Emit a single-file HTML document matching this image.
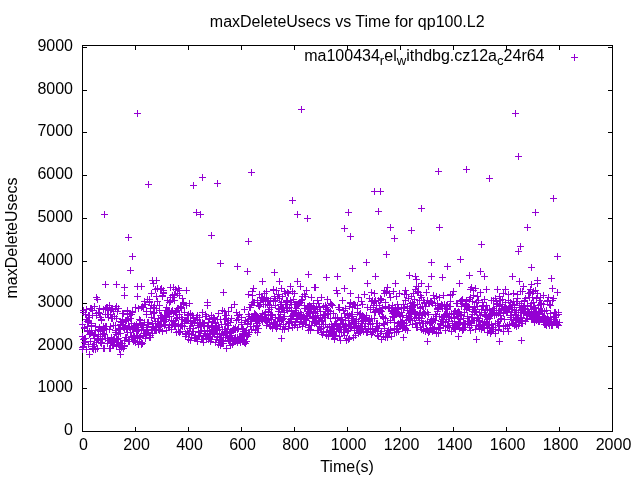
<!DOCTYPE html>
<html lang="en"><head><meta charset="utf-8"><title>maxDeleteUsecs vs Time for qp100.L2</title>
<style>
html,body{margin:0;padding:0;background:#fff;width:640px;height:480px;overflow:hidden}
svg{display:block;will-change:transform}
text{font-family:"Liberation Sans",sans-serif;font-size:16px;fill:#000}
.ax{stroke:#000;stroke-width:1;fill:none;shape-rendering:crispEdges}
.pt{stroke:#9400d3;stroke-width:1;fill:none}
</style></head><body>
<svg width="640" height="480" viewBox="0 0 640 480">
<rect width="640" height="480" fill="#fff"/>
<text x="347.2" y="27" text-anchor="middle">maxDeleteUsecs vs Time for qp100.L2</text>
<text transform="translate(17.2,238) rotate(-90)" text-anchor="middle">maxDeleteUsecs</text>
<text x="347" y="472" text-anchor="middle">Time(s)</text>
<text x="73" y="434.5" text-anchor="end">0</text>
<text x="73" y="391.5" text-anchor="end">1000</text>
<text x="73" y="349.5" text-anchor="end">2000</text>
<text x="73" y="306.5" text-anchor="end">3000</text>
<text x="73" y="264.5" text-anchor="end">4000</text>
<text x="73" y="221.5" text-anchor="end">5000</text>
<text x="73" y="178.5" text-anchor="end">6000</text>
<text x="73" y="135.5" text-anchor="end">7000</text>
<text x="73" y="93.5" text-anchor="end">8000</text>
<text x="73" y="50.5" text-anchor="end">9000</text>
<text x="83.5" y="449.8" text-anchor="middle">0</text>
<text x="136.5" y="449.8" text-anchor="middle">200</text>
<text x="189.5" y="449.8" text-anchor="middle">400</text>
<text x="242.5" y="449.8" text-anchor="middle">600</text>
<text x="295.5" y="449.8" text-anchor="middle">800</text>
<text x="348.5" y="449.8" text-anchor="middle">1000</text>
<text x="401.5" y="449.8" text-anchor="middle">1200</text>
<text x="454.5" y="449.8" text-anchor="middle">1400</text>
<text x="507.5" y="449.8" text-anchor="middle">1600</text>
<text x="560.5" y="449.8" text-anchor="middle">1800</text>
<text x="613.5" y="449.8" text-anchor="middle">2000</text>
<path class="ax" d="M82.5,431.5h4.5M612.5,431.5h-4.5M82.5,388.5h4.5M612.5,388.5h-4.5M82.5,346.5h4.5M612.5,346.5h-4.5M82.5,303.5h4.5M612.5,303.5h-4.5M82.5,261.5h4.5M612.5,261.5h-4.5M82.5,218.5h4.5M612.5,218.5h-4.5M82.5,175.5h4.5M612.5,175.5h-4.5M82.5,132.5h4.5M612.5,132.5h-4.5M82.5,90.5h4.5M612.5,90.5h-4.5M82.5,47.5h4.5M612.5,47.5h-4.5M82.5,431.5v-4.5M82.5,45.5v4.5M135.5,431.5v-4.5M135.5,45.5v4.5M188.5,431.5v-4.5M188.5,45.5v4.5M241.5,431.5v-4.5M241.5,45.5v4.5M294.5,431.5v-4.5M294.5,45.5v4.5M347.5,431.5v-4.5M347.5,45.5v4.5M400.5,431.5v-4.5M400.5,45.5v4.5M453.5,431.5v-4.5M453.5,45.5v4.5M506.5,431.5v-4.5M506.5,45.5v4.5M559.5,431.5v-4.5M559.5,45.5v4.5M612.5,431.5v-4.5M612.5,45.5v4.5"/>
<rect class="ax" x="82.5" y="45.5" width="530" height="386"/>
<text x="544.5" y="60.5" text-anchor="end">ma100434<tspan font-size="13.2" dy="4.8">r</tspan><tspan dy="-4.8">el</tspan><tspan font-size="13.2" dy="4.8">w</tspan><tspan dy="-4.8">ithdbg.cz12a</tspan><tspan font-size="13.2" dy="4.8">c</tspan><tspan dy="-4.8">24r64</tspan></text>
<path class="pt" d="M571.00,57.50h7M574.50,54.00v7M134.00,113.50h7M137.50,110.00v7M298.00,109.50h7M301.50,106.00v7M512.00,113.50h7M515.50,110.00v7M515.00,156.50h7M518.50,153.00v7M145.00,184.50h7M148.50,181.00v7M190.00,185.50h7M193.50,182.00v7M199.00,177.50h7M202.50,174.00v7M214.00,183.50h7M217.50,180.00v7M101.00,214.50h7M104.50,211.00v7M193.00,212.50h7M196.50,209.00v7M197.00,214.50h7M200.50,211.00v7M125.00,237.50h7M128.50,234.00v7M208.00,235.50h7M211.50,232.00v7M129.00,256.50h7M132.50,253.00v7M217.00,263.50h7M220.50,260.00v7M234.00,266.50h7M237.50,263.00v7M127.00,270.50h7M130.50,267.00v7M149.00,280.50h7M152.50,277.00v7M153.00,280.50h7M156.50,277.00v7M248.00,172.50h7M251.50,169.00v7M289.00,200.50h7M292.50,197.00v7M294.00,214.50h7M297.50,211.00v7M304.00,218.50h7M307.50,215.00v7M371.00,191.50h7M374.50,188.00v7M377.00,191.50h7M380.50,188.00v7M345.00,212.50h7M348.50,209.00v7M375.00,211.50h7M378.50,208.00v7M341.00,228.50h7M344.50,225.00v7M387.00,227.50h7M390.50,224.00v7M347.00,236.50h7M350.50,233.00v7M391.00,238.50h7M394.50,235.00v7M245.00,241.50h7M248.50,238.00v7M383.00,254.50h7M386.50,251.00v7M363.00,262.50h7M366.50,259.00v7M349.00,268.50h7M352.50,265.00v7M244.00,271.50h7M247.50,268.00v7M271.00,272.50h7M274.50,269.00v7M305.00,274.50h7M308.50,271.00v7M334.00,276.50h7M337.50,273.00v7M323.00,277.50h7M326.50,274.00v7M372.00,276.50h7M375.50,273.00v7M259.00,281.50h7M262.50,278.00v7M276.00,281.50h7M279.50,278.00v7M294.00,281.50h7M297.50,278.00v7M435.00,171.50h7M438.50,168.00v7M463.00,169.50h7M466.50,166.00v7M486.00,178.50h7M489.50,175.00v7M550.00,198.50h7M553.50,195.00v7M418.00,208.50h7M421.50,205.00v7M532.00,212.50h7M535.50,209.00v7M408.00,230.50h7M411.50,227.00v7M436.00,227.50h7M439.50,224.00v7M524.00,227.50h7M527.50,224.00v7M478.00,244.50h7M481.50,241.00v7M517.00,246.50h7M520.50,243.00v7M515.00,251.50h7M518.50,248.00v7M554.00,256.50h7M557.50,253.00v7M457.00,259.50h7M460.50,256.00v7M428.00,262.50h7M431.50,259.00v7M444.00,266.50h7M447.50,263.00v7M528.00,267.50h7M531.50,264.00v7M477.00,271.50h7M480.50,268.00v7M406.00,275.50h7M409.50,272.00v7M412.00,276.50h7M415.50,273.00v7M428.00,276.50h7M431.50,273.00v7M439.00,277.50h7M442.50,274.00v7M466.00,275.50h7M469.50,272.00v7M481.00,276.50h7M484.50,273.00v7M509.00,276.50h7M512.50,273.00v7M548.00,278.50h7M551.50,275.00v7M413.00,279.50h7M416.50,276.00v7M534.00,280.50h7M537.50,277.00v7M516.00,281.50h7M519.50,278.00v7M102.00,284.50h7M105.50,281.00v7M113.00,284.50h7M116.50,281.00v7M121.00,287.50h7M124.50,284.00v7M134.00,286.50h7M137.50,283.00v7M138.00,286.50h7M141.50,283.00v7M121.00,295.50h7M124.50,292.00v7M220.00,292.50h7M223.50,289.00v7M223.00,348.50h7M226.50,345.00v7M117.00,354.50h7M120.50,351.00v7M86.00,354.50h7M89.50,351.00v7M172.00,289.50h7M175.50,286.00v7M176.00,290.50h7M179.50,287.00v7M278.00,338.50h7M281.50,335.00v7M250.00,288.50h7M253.50,285.00v7M312.00,287.50h7M315.50,284.00v7M287.00,286.50h7M290.50,283.00v7M273.00,290.50h7M276.50,287.00v7M281.00,291.50h7M284.50,288.00v7M424.00,341.50h7M427.50,338.00v7M455.00,336.50h7M458.50,333.00v7M473.00,339.50h7M476.50,336.00v7M400.00,337.50h7M403.50,334.00v7M496.00,341.50h7M499.50,338.00v7M518.00,340.50h7M521.50,337.00v7M79.00,324.50h7M82.50,321.00v7M79.00,336.50h7M82.50,333.00v7M79.00,349.50h7M82.50,346.00v7M79.00,347.50h7M82.50,344.00v7M80.00,346.50h7M83.50,343.00v7M80.00,312.50h7M83.50,309.00v7M80.00,310.50h7M83.50,307.00v7M80.00,339.50h7M83.50,336.00v7M81.00,338.50h7M84.50,335.00v7M81.00,327.50h7M84.50,324.00v7M81.00,328.50h7M84.50,325.00v7M81.00,342.50h7M84.50,339.00v7M82.00,338.50h7M85.50,335.00v7M82.00,338.50h7M85.50,335.00v7M82.00,341.50h7M85.50,338.00v7M82.00,314.50h7M85.50,311.00v7M83.00,309.50h7M86.50,306.00v7M83.00,319.50h7M86.50,316.00v7M83.00,349.50h7M86.50,346.00v7M84.00,326.50h7M87.50,323.00v7M84.00,321.50h7M87.50,318.00v7M84.00,331.50h7M87.50,328.00v7M84.00,330.50h7M87.50,327.00v7M85.00,320.50h7M88.50,317.00v7M85.00,315.50h7M88.50,312.00v7M85.00,322.50h7M88.50,319.00v7M85.00,344.50h7M88.50,341.00v7M86.00,317.50h7M89.50,314.00v7M86.00,334.50h7M89.50,331.00v7M86.00,331.50h7M89.50,328.00v7M86.00,315.50h7M89.50,312.00v7M87.00,333.50h7M90.50,330.00v7M87.00,308.50h7M90.50,305.00v7M87.00,341.50h7M90.50,338.00v7M88.00,325.50h7M91.50,322.00v7M88.00,332.50h7M91.50,329.00v7M88.00,308.50h7M91.50,305.00v7M88.00,323.50h7M91.50,320.00v7M89.00,310.50h7M92.50,307.00v7M89.00,315.50h7M92.50,312.00v7M89.00,346.50h7M92.50,343.00v7M89.00,348.50h7M92.50,345.00v7M90.00,335.50h7M93.50,332.00v7M90.00,344.50h7M93.50,341.00v7M90.00,349.50h7M93.50,346.00v7M90.00,344.50h7M93.50,341.00v7M91.00,334.50h7M94.50,331.00v7M91.00,306.50h7M94.50,303.00v7M91.00,346.50h7M94.50,343.00v7M91.00,338.50h7M94.50,335.00v7M92.00,349.50h7M95.50,346.00v7M92.00,330.50h7M95.50,327.00v7M92.00,326.50h7M95.50,323.00v7M93.00,297.50h7M96.50,294.00v7M93.00,342.50h7M96.50,339.00v7M93.00,315.50h7M96.50,312.00v7M93.00,313.50h7M96.50,310.00v7M94.00,299.50h7M97.50,296.00v7M94.00,339.50h7M97.50,336.00v7M94.00,348.50h7M97.50,345.00v7M94.00,338.50h7M97.50,335.00v7M95.00,329.50h7M98.50,326.00v7M95.00,336.50h7M98.50,333.00v7M95.00,340.50h7M98.50,337.00v7M95.00,312.50h7M98.50,309.00v7M96.00,313.50h7M99.50,310.00v7M96.00,308.50h7M99.50,305.00v7M96.00,327.50h7M99.50,324.00v7M97.00,334.50h7M100.50,331.00v7M97.00,331.50h7M100.50,328.00v7M97.00,317.50h7M100.50,314.00v7M97.00,342.50h7M100.50,339.00v7M98.00,342.50h7M101.50,339.00v7M98.00,319.50h7M101.50,316.00v7M98.00,343.50h7M101.50,340.00v7M98.00,320.50h7M101.50,317.00v7M99.00,329.50h7M102.50,326.00v7M99.00,339.50h7M102.50,336.00v7M99.00,338.50h7M102.50,335.00v7M99.00,330.50h7M102.50,327.00v7M100.00,333.50h7M103.50,330.00v7M100.00,309.50h7M103.50,306.00v7M100.00,326.50h7M103.50,323.00v7M100.00,348.50h7M103.50,345.00v7M101.00,348.50h7M104.50,345.00v7M101.00,328.50h7M104.50,325.00v7M101.00,334.50h7M104.50,331.00v7M102.00,314.50h7M105.50,311.00v7M102.00,338.50h7M105.50,335.00v7M102.00,326.50h7M105.50,323.00v7M102.00,308.50h7M105.50,305.00v7M103.00,326.50h7M106.50,323.00v7M103.00,329.50h7M106.50,326.00v7M103.00,307.50h7M106.50,304.00v7M103.00,307.50h7M106.50,304.00v7M104.00,307.50h7M107.50,304.00v7M104.00,343.50h7M107.50,340.00v7M104.00,338.50h7M107.50,335.00v7M104.00,314.50h7M107.50,311.00v7M105.00,317.50h7M108.50,314.00v7M105.00,310.50h7M108.50,307.00v7M105.00,340.50h7M108.50,337.00v7M106.00,305.50h7M109.50,302.00v7M106.00,329.50h7M109.50,326.00v7M106.00,340.50h7M109.50,337.00v7M106.00,348.50h7M109.50,345.00v7M107.00,348.50h7M110.50,345.00v7M107.00,326.50h7M110.50,323.00v7M107.00,314.50h7M110.50,311.00v7M107.00,343.50h7M110.50,340.00v7M108.00,337.50h7M111.50,334.00v7M108.00,309.50h7M111.50,306.00v7M108.00,342.50h7M111.50,339.00v7M108.00,318.50h7M111.50,315.00v7M109.00,318.50h7M112.50,315.00v7M109.00,308.50h7M112.50,305.00v7M109.00,345.50h7M112.50,342.00v7M110.00,311.50h7M113.50,308.00v7M110.00,325.50h7M113.50,322.00v7M110.00,339.50h7M113.50,336.00v7M110.00,344.50h7M113.50,341.00v7M111.00,340.50h7M114.50,337.00v7M111.00,316.50h7M114.50,313.00v7M111.00,341.50h7M114.50,338.00v7M111.00,338.50h7M114.50,335.00v7M112.00,325.50h7M115.50,322.00v7M112.00,308.50h7M115.50,305.00v7M112.00,330.50h7M115.50,327.00v7M112.00,332.50h7M115.50,329.00v7M113.00,306.50h7M116.50,303.00v7M113.00,318.50h7M116.50,315.00v7M113.00,334.50h7M116.50,331.00v7M113.00,346.50h7M116.50,343.00v7M114.00,342.50h7M117.50,339.00v7M114.00,311.50h7M117.50,308.00v7M114.00,339.50h7M117.50,336.00v7M115.00,342.50h7M118.50,339.00v7M115.00,308.50h7M118.50,305.00v7M115.00,329.50h7M118.50,326.00v7M115.00,338.50h7M118.50,335.00v7M116.00,329.50h7M119.50,326.00v7M116.00,328.50h7M119.50,325.00v7M116.00,346.50h7M119.50,343.00v7M116.00,349.50h7M119.50,346.00v7M117.00,324.50h7M120.50,321.00v7M117.00,321.50h7M120.50,318.00v7M117.00,333.50h7M120.50,330.00v7M117.00,343.50h7M120.50,340.00v7M118.00,347.50h7M121.50,344.00v7M118.00,322.50h7M121.50,319.00v7M118.00,343.50h7M121.50,340.00v7M119.00,313.50h7M122.50,310.00v7M119.00,324.50h7M122.50,321.00v7M119.00,319.50h7M122.50,316.00v7M119.00,343.50h7M122.50,340.00v7M120.00,313.50h7M123.50,310.00v7M120.00,322.50h7M123.50,319.00v7M120.00,348.50h7M123.50,345.00v7M120.00,327.50h7M123.50,324.00v7M121.00,346.50h7M124.50,343.00v7M121.00,345.50h7M124.50,342.00v7M121.00,340.50h7M124.50,337.00v7M121.00,328.50h7M124.50,325.00v7M122.00,320.50h7M125.50,317.00v7M122.00,321.50h7M125.50,318.00v7M122.00,337.50h7M125.50,334.00v7M122.00,325.50h7M125.50,322.00v7M123.00,337.50h7M126.50,334.00v7M123.00,320.50h7M126.50,317.00v7M123.00,329.50h7M126.50,326.00v7M124.00,311.50h7M127.50,308.00v7M124.00,310.50h7M127.50,307.00v7M124.00,314.50h7M127.50,311.00v7M124.00,332.50h7M127.50,329.00v7M125.00,339.50h7M128.50,336.00v7M125.00,326.50h7M128.50,323.00v7M125.00,341.50h7M128.50,338.00v7M125.00,319.50h7M128.50,316.00v7M126.00,327.50h7M129.50,324.00v7M126.00,327.50h7M129.50,324.00v7M126.00,341.50h7M129.50,338.00v7M126.00,313.50h7M129.50,310.00v7M127.00,314.50h7M130.50,311.00v7M127.00,318.50h7M130.50,315.00v7M127.00,332.50h7M130.50,329.00v7M128.00,323.50h7M131.50,320.00v7M128.00,336.50h7M131.50,333.00v7M128.00,314.50h7M131.50,311.00v7M128.00,337.50h7M131.50,334.00v7M129.00,339.50h7M132.50,336.00v7M129.00,312.50h7M132.50,309.00v7M129.00,311.50h7M132.50,308.00v7M129.00,328.50h7M132.50,325.00v7M130.00,329.50h7M133.50,326.00v7M130.00,335.50h7M133.50,332.00v7M130.00,341.50h7M133.50,338.00v7M130.00,335.50h7M133.50,332.00v7M131.00,336.50h7M134.50,333.00v7M131.00,325.50h7M134.50,322.00v7M131.00,340.50h7M134.50,337.00v7M132.00,326.50h7M135.50,323.00v7M132.00,307.50h7M135.50,304.00v7M132.00,338.50h7M135.50,335.00v7M132.00,342.50h7M135.50,339.00v7M133.00,324.50h7M136.50,321.00v7M133.00,330.50h7M136.50,327.00v7M133.00,331.50h7M136.50,328.00v7M133.00,335.50h7M136.50,332.00v7M134.00,341.50h7M137.50,338.00v7M134.00,337.50h7M137.50,334.00v7M134.00,330.50h7M137.50,327.00v7M134.00,296.50h7M137.50,293.00v7M135.00,344.50h7M138.50,341.00v7M135.00,327.50h7M138.50,324.00v7M135.00,330.50h7M138.50,327.00v7M135.00,308.50h7M138.50,305.00v7M136.00,337.50h7M139.50,334.00v7M136.00,319.50h7M139.50,316.00v7M136.00,319.50h7M139.50,316.00v7M137.00,324.50h7M140.50,321.00v7M137.00,336.50h7M140.50,333.00v7M137.00,323.50h7M140.50,320.00v7M137.00,320.50h7M140.50,317.00v7M138.00,342.50h7M141.50,339.00v7M138.00,329.50h7M141.50,326.00v7M138.00,344.50h7M141.50,341.00v7M138.00,307.50h7M141.50,304.00v7M139.00,325.50h7M142.50,322.00v7M139.00,306.50h7M142.50,303.00v7M139.00,343.50h7M142.50,340.00v7M139.00,327.50h7M142.50,324.00v7M140.00,307.50h7M143.50,304.00v7M140.00,329.50h7M143.50,326.00v7M140.00,335.50h7M143.50,332.00v7M141.00,322.50h7M144.50,319.00v7M141.00,301.50h7M144.50,298.00v7M141.00,333.50h7M144.50,330.00v7M141.00,304.50h7M144.50,301.00v7M142.00,333.50h7M145.50,330.00v7M142.00,304.50h7M145.50,301.00v7M142.00,333.50h7M145.50,330.00v7M142.00,338.50h7M145.50,335.00v7M143.00,311.50h7M146.50,308.00v7M143.00,334.50h7M146.50,331.00v7M143.00,314.50h7M146.50,311.00v7M143.00,327.50h7M146.50,324.00v7M144.00,329.50h7M147.50,326.00v7M144.00,299.50h7M147.50,296.00v7M144.00,332.50h7M147.50,329.00v7M144.00,322.50h7M147.50,319.00v7M145.00,324.50h7M148.50,321.00v7M145.00,332.50h7M148.50,329.00v7M145.00,322.50h7M148.50,319.00v7M146.00,337.50h7M149.50,334.00v7M146.00,301.50h7M149.50,298.00v7M146.00,302.50h7M149.50,299.00v7M146.00,299.50h7M149.50,296.00v7M147.00,308.50h7M150.50,305.00v7M147.00,337.50h7M150.50,334.00v7M147.00,311.50h7M150.50,308.00v7M147.00,335.50h7M150.50,332.00v7M148.00,293.50h7M151.50,290.00v7M148.00,317.50h7M151.50,314.00v7M148.00,330.50h7M151.50,327.00v7M148.00,305.50h7M151.50,302.00v7M149.00,323.50h7M152.50,320.00v7M149.00,333.50h7M152.50,330.00v7M149.00,326.50h7M152.50,323.00v7M150.00,313.50h7M153.50,310.00v7M150.00,283.50h7M153.50,280.00v7M150.00,327.50h7M153.50,324.00v7M150.00,307.50h7M153.50,304.00v7M151.00,318.50h7M154.50,315.00v7M151.00,305.50h7M154.50,302.00v7M151.00,330.50h7M154.50,327.00v7M151.00,312.50h7M154.50,309.00v7M152.00,327.50h7M155.50,324.00v7M152.00,329.50h7M155.50,326.00v7M152.00,321.50h7M155.50,318.00v7M152.00,289.50h7M155.50,286.00v7M153.00,308.50h7M156.50,305.00v7M153.00,330.50h7M156.50,327.00v7M153.00,296.50h7M156.50,293.00v7M153.00,329.50h7M156.50,326.00v7M154.00,288.50h7M157.50,285.00v7M154.00,321.50h7M157.50,318.00v7M154.00,301.50h7M157.50,298.00v7M155.00,329.50h7M158.50,326.00v7M155.00,318.50h7M158.50,315.00v7M155.00,323.50h7M158.50,320.00v7M155.00,325.50h7M158.50,322.00v7M156.00,305.50h7M159.50,302.00v7M156.00,324.50h7M159.50,321.00v7M156.00,330.50h7M159.50,327.00v7M156.00,310.50h7M159.50,307.00v7M157.00,326.50h7M160.50,323.00v7M157.00,321.50h7M160.50,318.00v7M157.00,289.50h7M160.50,286.00v7M157.00,315.50h7M160.50,312.00v7M158.00,288.50h7M161.50,285.00v7M158.00,324.50h7M161.50,321.00v7M158.00,315.50h7M161.50,312.00v7M159.00,296.50h7M162.50,293.00v7M159.00,331.50h7M162.50,328.00v7M159.00,295.50h7M162.50,292.00v7M159.00,317.50h7M162.50,314.00v7M160.00,320.50h7M163.50,317.00v7M160.00,290.50h7M163.50,287.00v7M160.00,292.50h7M163.50,289.00v7M160.00,293.50h7M163.50,290.00v7M161.00,316.50h7M164.50,313.00v7M161.00,319.50h7M164.50,316.00v7M161.00,325.50h7M164.50,322.00v7M161.00,315.50h7M164.50,312.00v7M162.00,324.50h7M165.50,321.00v7M162.00,310.50h7M165.50,307.00v7M162.00,321.50h7M165.50,318.00v7M163.00,330.50h7M166.50,327.00v7M163.00,330.50h7M166.50,327.00v7M163.00,307.50h7M166.50,304.00v7M163.00,319.50h7M166.50,316.00v7M164.00,314.50h7M167.50,311.00v7M164.00,313.50h7M167.50,310.00v7M164.00,311.50h7M167.50,308.00v7M164.00,300.50h7M167.50,297.00v7M165.00,312.50h7M168.50,309.00v7M165.00,314.50h7M168.50,311.00v7M165.00,310.50h7M168.50,307.00v7M165.00,327.50h7M168.50,324.00v7M166.00,310.50h7M169.50,307.00v7M166.00,316.50h7M169.50,313.00v7M166.00,325.50h7M169.50,322.00v7M166.00,302.50h7M169.50,299.00v7M167.00,287.50h7M170.50,284.00v7M167.00,297.50h7M170.50,294.00v7M167.00,301.50h7M170.50,298.00v7M168.00,320.50h7M171.50,317.00v7M168.00,311.50h7M171.50,308.00v7M168.00,324.50h7M171.50,321.00v7M168.00,329.50h7M171.50,326.00v7M169.00,295.50h7M172.50,292.00v7M169.00,324.50h7M172.50,321.00v7M169.00,310.50h7M172.50,307.00v7M169.00,297.50h7M172.50,294.00v7M170.00,297.50h7M173.50,294.00v7M170.00,287.50h7M173.50,284.00v7M170.00,321.50h7M173.50,318.00v7M170.00,313.50h7M173.50,310.00v7M171.00,325.50h7M174.50,322.00v7M171.00,300.50h7M174.50,297.00v7M171.00,294.50h7M174.50,291.00v7M172.00,320.50h7M175.50,317.00v7M172.00,326.50h7M175.50,323.00v7M172.00,312.50h7M175.50,309.00v7M172.00,323.50h7M175.50,320.00v7M173.00,332.50h7M176.50,329.00v7M173.00,318.50h7M176.50,315.00v7M173.00,310.50h7M176.50,307.00v7M173.00,314.50h7M176.50,311.00v7M174.00,293.50h7M177.50,290.00v7M174.00,308.50h7M177.50,305.00v7M174.00,317.50h7M177.50,314.00v7M174.00,308.50h7M177.50,305.00v7M175.00,308.50h7M178.50,305.00v7M175.00,288.50h7M178.50,285.00v7M175.00,331.50h7M178.50,328.00v7M175.00,324.50h7M178.50,321.00v7M176.00,332.50h7M179.50,329.00v7M176.00,295.50h7M179.50,292.00v7M176.00,314.50h7M179.50,311.00v7M177.00,326.50h7M180.50,323.00v7M177.00,331.50h7M180.50,328.00v7M177.00,307.50h7M180.50,304.00v7M177.00,306.50h7M180.50,303.00v7M178.00,317.50h7M181.50,314.00v7M178.00,325.50h7M181.50,322.00v7M178.00,307.50h7M181.50,304.00v7M178.00,308.50h7M181.50,305.00v7M179.00,319.50h7M182.50,316.00v7M179.00,325.50h7M182.50,322.00v7M179.00,298.50h7M182.50,295.00v7M179.00,326.50h7M182.50,323.00v7M180.00,302.50h7M183.50,299.00v7M180.00,304.50h7M183.50,301.00v7M180.00,303.50h7M183.50,300.00v7M181.00,312.50h7M184.50,309.00v7M181.00,323.50h7M184.50,320.00v7M181.00,321.50h7M184.50,318.00v7M181.00,326.50h7M184.50,323.00v7M182.00,334.50h7M185.50,331.00v7M182.00,333.50h7M185.50,330.00v7M182.00,336.50h7M185.50,333.00v7M182.00,320.50h7M185.50,317.00v7M183.00,320.50h7M186.50,317.00v7M183.00,305.50h7M186.50,302.00v7M183.00,290.50h7M186.50,287.00v7M183.00,334.50h7M186.50,331.00v7M184.00,315.50h7M187.50,312.00v7M184.00,320.50h7M187.50,317.00v7M184.00,331.50h7M187.50,328.00v7M185.00,333.50h7M188.50,330.00v7M185.00,339.50h7M188.50,336.00v7M185.00,320.50h7M188.50,317.00v7M185.00,314.50h7M188.50,311.00v7M186.00,303.50h7M189.50,300.00v7M186.00,328.50h7M189.50,325.00v7M186.00,331.50h7M189.50,328.00v7M186.00,334.50h7M189.50,331.00v7M187.00,313.50h7M190.50,310.00v7M187.00,321.50h7M190.50,318.00v7M187.00,340.50h7M190.50,337.00v7M187.00,328.50h7M190.50,325.00v7M188.00,334.50h7M191.50,331.00v7M188.00,323.50h7M191.50,320.00v7M188.00,337.50h7M191.50,334.00v7M188.00,323.50h7M191.50,320.00v7M189.00,323.50h7M192.50,320.00v7M189.00,331.50h7M192.50,328.00v7M189.00,315.50h7M192.50,312.00v7M190.00,318.50h7M193.50,315.00v7M190.00,331.50h7M193.50,328.00v7M190.00,328.50h7M193.50,325.00v7M190.00,317.50h7M193.50,314.00v7M191.00,337.50h7M194.50,334.00v7M191.00,322.50h7M194.50,319.00v7M191.00,322.50h7M194.50,319.00v7M191.00,337.50h7M194.50,334.00v7M192.00,335.50h7M195.50,332.00v7M192.00,320.50h7M195.50,317.00v7M192.00,335.50h7M195.50,332.00v7M192.00,338.50h7M195.50,335.00v7M193.00,317.50h7M196.50,314.00v7M193.00,338.50h7M196.50,335.00v7M193.00,317.50h7M196.50,314.00v7M194.00,319.50h7M197.50,316.00v7M194.00,339.50h7M197.50,336.00v7M194.00,341.50h7M197.50,338.00v7M194.00,315.50h7M197.50,312.00v7M195.00,325.50h7M198.50,322.00v7M195.00,332.50h7M198.50,329.00v7M195.00,327.50h7M198.50,324.00v7M195.00,336.50h7M198.50,333.00v7M196.00,317.50h7M199.50,314.00v7M196.00,323.50h7M199.50,320.00v7M196.00,335.50h7M199.50,332.00v7M196.00,323.50h7M199.50,320.00v7M197.00,326.50h7M200.50,323.00v7M197.00,331.50h7M200.50,328.00v7M197.00,324.50h7M200.50,321.00v7M197.00,323.50h7M200.50,320.00v7M198.00,330.50h7M201.50,327.00v7M198.00,339.50h7M201.50,336.00v7M198.00,339.50h7M201.50,336.00v7M199.00,322.50h7M202.50,319.00v7M199.00,312.50h7M202.50,309.00v7M199.00,323.50h7M202.50,320.00v7M199.00,339.50h7M202.50,336.00v7M200.00,336.50h7M203.50,333.00v7M200.00,342.50h7M203.50,339.00v7M200.00,323.50h7M203.50,320.00v7M200.00,325.50h7M203.50,322.00v7M201.00,330.50h7M204.50,327.00v7M201.00,333.50h7M204.50,330.00v7M201.00,323.50h7M204.50,320.00v7M201.00,331.50h7M204.50,328.00v7M202.00,316.50h7M205.50,313.00v7M202.00,314.50h7M205.50,311.00v7M202.00,335.50h7M205.50,332.00v7M203.00,316.50h7M206.50,313.00v7M203.00,336.50h7M206.50,333.00v7M203.00,338.50h7M206.50,335.00v7M203.00,336.50h7M206.50,333.00v7M204.00,331.50h7M207.50,328.00v7M204.00,326.50h7M207.50,323.00v7M204.00,305.50h7M207.50,302.00v7M204.00,302.50h7M207.50,299.00v7M205.00,339.50h7M208.50,336.00v7M205.00,337.50h7M208.50,334.00v7M205.00,325.50h7M208.50,322.00v7M205.00,322.50h7M208.50,319.00v7M206.00,338.50h7M209.50,335.00v7M206.00,319.50h7M209.50,316.00v7M206.00,318.50h7M209.50,315.00v7M206.00,331.50h7M209.50,328.00v7M207.00,333.50h7M210.50,330.00v7M207.00,336.50h7M210.50,333.00v7M207.00,341.50h7M210.50,338.00v7M208.00,339.50h7M211.50,336.00v7M208.00,330.50h7M211.50,327.00v7M208.00,315.50h7M211.50,312.00v7M208.00,326.50h7M211.50,323.00v7M209.00,321.50h7M212.50,318.00v7M209.00,329.50h7M212.50,326.00v7M209.00,327.50h7M212.50,324.00v7M209.00,336.50h7M212.50,333.00v7M210.00,332.50h7M213.50,329.00v7M210.00,329.50h7M213.50,326.00v7M210.00,317.50h7M213.50,314.00v7M210.00,331.50h7M213.50,328.00v7M211.00,334.50h7M214.50,331.00v7M211.00,332.50h7M214.50,329.00v7M211.00,318.50h7M214.50,315.00v7M212.00,330.50h7M215.50,327.00v7M212.00,323.50h7M215.50,320.00v7M212.00,342.50h7M215.50,339.00v7M212.00,322.50h7M215.50,319.00v7M213.00,326.50h7M216.50,323.00v7M213.00,328.50h7M216.50,325.00v7M213.00,325.50h7M216.50,322.00v7M213.00,339.50h7M216.50,336.00v7M214.00,319.50h7M217.50,316.00v7M214.00,336.50h7M217.50,333.00v7M214.00,330.50h7M217.50,327.00v7M214.00,337.50h7M217.50,334.00v7M215.00,327.50h7M218.50,324.00v7M215.00,344.50h7M218.50,341.00v7M215.00,313.50h7M218.50,310.00v7M216.00,334.50h7M219.50,331.00v7M216.00,329.50h7M219.50,326.00v7M216.00,333.50h7M219.50,330.00v7M216.00,340.50h7M219.50,337.00v7M217.00,345.50h7M220.50,342.00v7M217.00,342.50h7M220.50,339.00v7M217.00,319.50h7M220.50,316.00v7M217.00,339.50h7M220.50,336.00v7M218.00,340.50h7M221.50,337.00v7M218.00,324.50h7M221.50,321.00v7M218.00,343.50h7M221.50,340.00v7M218.00,334.50h7M221.50,331.00v7M219.00,310.50h7M222.50,307.00v7M219.00,329.50h7M222.50,326.00v7M219.00,343.50h7M222.50,340.00v7M219.00,341.50h7M222.50,338.00v7M220.00,343.50h7M223.50,340.00v7M220.00,335.50h7M223.50,332.00v7M220.00,337.50h7M223.50,334.00v7M221.00,329.50h7M224.50,326.00v7M221.00,319.50h7M224.50,316.00v7M221.00,331.50h7M224.50,328.00v7M221.00,311.50h7M224.50,308.00v7M222.00,337.50h7M225.50,334.00v7M222.00,315.50h7M225.50,312.00v7M222.00,324.50h7M225.50,321.00v7M222.00,331.50h7M225.50,328.00v7M223.00,335.50h7M226.50,332.00v7M223.00,315.50h7M226.50,312.00v7M223.00,331.50h7M226.50,328.00v7M223.00,318.50h7M226.50,315.00v7M224.00,337.50h7M227.50,334.00v7M224.00,323.50h7M227.50,320.00v7M224.00,329.50h7M227.50,326.00v7M225.00,340.50h7M228.50,337.00v7M225.00,320.50h7M228.50,317.00v7M225.00,311.50h7M228.50,308.00v7M225.00,325.50h7M228.50,322.00v7M226.00,333.50h7M229.50,330.00v7M226.00,341.50h7M229.50,338.00v7M226.00,337.50h7M229.50,334.00v7M226.00,336.50h7M229.50,333.00v7M227.00,322.50h7M230.50,319.00v7M227.00,331.50h7M230.50,328.00v7M227.00,341.50h7M230.50,338.00v7M227.00,345.50h7M230.50,342.00v7M228.00,307.50h7M231.50,304.00v7M228.00,332.50h7M231.50,329.00v7M228.00,335.50h7M231.50,332.00v7M228.00,318.50h7M231.50,315.00v7M229.00,340.50h7M232.50,337.00v7M229.00,344.50h7M232.50,341.00v7M229.00,343.50h7M232.50,340.00v7M230.00,341.50h7M233.50,338.00v7M230.00,330.50h7M233.50,327.00v7M230.00,328.50h7M233.50,325.00v7M230.00,341.50h7M233.50,338.00v7M231.00,339.50h7M234.50,336.00v7M231.00,304.50h7M234.50,301.00v7M231.00,329.50h7M234.50,326.00v7M231.00,341.50h7M234.50,338.00v7M232.00,327.50h7M235.50,324.00v7M232.00,337.50h7M235.50,334.00v7M232.00,341.50h7M235.50,338.00v7M232.00,329.50h7M235.50,326.00v7M233.00,340.50h7M236.50,337.00v7M233.00,320.50h7M236.50,317.00v7M233.00,312.50h7M236.50,309.00v7M234.00,342.50h7M237.50,339.00v7M234.00,315.50h7M237.50,312.00v7M234.00,337.50h7M237.50,334.00v7M234.00,329.50h7M237.50,326.00v7M235.00,328.50h7M238.50,325.00v7M235.00,340.50h7M238.50,337.00v7M235.00,340.50h7M238.50,337.00v7M235.00,319.50h7M238.50,316.00v7M236.00,337.50h7M239.50,334.00v7M236.00,340.50h7M239.50,337.00v7M236.00,314.50h7M239.50,311.00v7M236.00,337.50h7M239.50,334.00v7M237.00,336.50h7M240.50,333.00v7M237.00,341.50h7M240.50,338.00v7M237.00,342.50h7M240.50,339.00v7M238.00,322.50h7M241.50,319.00v7M238.00,336.50h7M241.50,333.00v7M238.00,317.50h7M241.50,314.00v7M238.00,324.50h7M241.50,321.00v7M239.00,340.50h7M242.50,337.00v7M239.00,328.50h7M242.50,325.00v7M239.00,341.50h7M242.50,338.00v7M239.00,333.50h7M242.50,330.00v7M240.00,329.50h7M243.50,326.00v7M240.00,331.50h7M243.50,328.00v7M240.00,335.50h7M243.50,332.00v7M240.00,341.50h7M243.50,338.00v7M241.00,309.50h7M244.50,306.00v7M241.00,342.50h7M244.50,339.00v7M241.00,339.50h7M244.50,336.00v7M241.00,335.50h7M244.50,332.00v7M242.00,343.50h7M245.50,340.00v7M242.00,333.50h7M245.50,330.00v7M242.00,320.50h7M245.50,317.00v7M243.00,335.50h7M246.50,332.00v7M243.00,341.50h7M246.50,338.00v7M243.00,333.50h7M246.50,330.00v7M243.00,330.50h7M246.50,327.00v7M244.00,336.50h7M247.50,333.00v7M244.00,321.50h7M247.50,318.00v7M244.00,323.50h7M247.50,320.00v7M244.00,324.50h7M247.50,321.00v7M245.00,314.50h7M248.50,311.00v7M245.00,294.50h7M248.50,291.00v7M245.00,319.50h7M248.50,316.00v7M245.00,334.50h7M248.50,331.00v7M246.00,316.50h7M249.50,313.00v7M246.00,332.50h7M249.50,329.00v7M246.00,307.50h7M249.50,304.00v7M247.00,326.50h7M250.50,323.00v7M247.00,321.50h7M250.50,318.00v7M247.00,307.50h7M250.50,304.00v7M247.00,321.50h7M250.50,318.00v7M248.00,304.50h7M251.50,301.00v7M248.00,321.50h7M251.50,318.00v7M248.00,329.50h7M251.50,326.00v7M248.00,317.50h7M251.50,314.00v7M249.00,318.50h7M252.50,315.00v7M249.00,302.50h7M252.50,299.00v7M249.00,295.50h7M252.50,292.00v7M249.00,291.50h7M252.50,288.00v7M250.00,326.50h7M253.50,323.00v7M250.00,316.50h7M253.50,313.00v7M250.00,317.50h7M253.50,314.00v7M250.00,302.50h7M253.50,299.00v7M251.00,313.50h7M254.50,310.00v7M251.00,302.50h7M254.50,299.00v7M251.00,318.50h7M254.50,315.00v7M252.00,329.50h7M255.50,326.00v7M252.00,320.50h7M255.50,317.00v7M252.00,330.50h7M255.50,327.00v7M252.00,314.50h7M255.50,311.00v7M253.00,326.50h7M256.50,323.00v7M253.00,315.50h7M256.50,312.00v7M253.00,323.50h7M256.50,320.00v7M253.00,316.50h7M256.50,313.00v7M254.00,332.50h7M257.50,329.00v7M254.00,300.50h7M257.50,297.00v7M254.00,323.50h7M257.50,320.00v7M254.00,325.50h7M257.50,322.00v7M255.00,305.50h7M258.50,302.00v7M255.00,320.50h7M258.50,317.00v7M255.00,328.50h7M258.50,325.00v7M256.00,294.50h7M259.50,291.00v7M256.00,321.50h7M259.50,318.00v7M256.00,306.50h7M259.50,303.00v7M256.00,319.50h7M259.50,316.00v7M257.00,317.50h7M260.50,314.00v7M257.00,304.50h7M260.50,301.00v7M257.00,302.50h7M260.50,299.00v7M257.00,316.50h7M260.50,313.00v7M258.00,317.50h7M261.50,314.00v7M258.00,297.50h7M261.50,294.00v7M258.00,317.50h7M261.50,314.00v7M258.00,319.50h7M261.50,316.00v7M259.00,321.50h7M262.50,318.00v7M259.00,298.50h7M262.50,295.00v7M259.00,321.50h7M262.50,318.00v7M259.00,313.50h7M262.50,310.00v7M260.00,299.50h7M263.50,296.00v7M260.00,301.50h7M263.50,298.00v7M260.00,304.50h7M263.50,301.00v7M261.00,314.50h7M264.50,311.00v7M261.00,293.50h7M264.50,290.00v7M261.00,297.50h7M264.50,294.00v7M261.00,319.50h7M264.50,316.00v7M262.00,320.50h7M265.50,317.00v7M262.00,312.50h7M265.50,309.00v7M262.00,318.50h7M265.50,315.00v7M262.00,304.50h7M265.50,301.00v7M263.00,319.50h7M266.50,316.00v7M263.00,298.50h7M266.50,295.00v7M263.00,325.50h7M266.50,322.00v7M263.00,291.50h7M266.50,288.00v7M264.00,304.50h7M267.50,301.00v7M264.00,301.50h7M267.50,298.00v7M264.00,320.50h7M267.50,317.00v7M265.00,315.50h7M268.50,312.00v7M265.00,311.50h7M268.50,308.00v7M265.00,300.50h7M268.50,297.00v7M265.00,318.50h7M268.50,315.00v7M266.00,309.50h7M269.50,306.00v7M266.00,305.50h7M269.50,302.00v7M266.00,324.50h7M269.50,321.00v7M266.00,322.50h7M269.50,319.00v7M267.00,300.50h7M270.50,297.00v7M267.00,326.50h7M270.50,323.00v7M267.00,326.50h7M270.50,323.00v7M267.00,314.50h7M270.50,311.00v7M268.00,314.50h7M271.50,311.00v7M268.00,307.50h7M271.50,304.00v7M268.00,319.50h7M271.50,316.00v7M269.00,327.50h7M272.50,324.00v7M269.00,315.50h7M272.50,312.00v7M269.00,328.50h7M272.50,325.00v7M269.00,315.50h7M272.50,312.00v7M270.00,322.50h7M273.50,319.00v7M270.00,289.50h7M273.50,286.00v7M270.00,290.50h7M273.50,287.00v7M270.00,301.50h7M273.50,298.00v7M271.00,298.50h7M274.50,295.00v7M271.00,323.50h7M274.50,320.00v7M271.00,296.50h7M274.50,293.00v7M271.00,324.50h7M274.50,321.00v7M272.00,300.50h7M275.50,297.00v7M272.00,326.50h7M275.50,323.00v7M272.00,317.50h7M275.50,314.00v7M272.00,305.50h7M275.50,302.00v7M273.00,324.50h7M276.50,321.00v7M273.00,328.50h7M276.50,325.00v7M273.00,325.50h7M276.50,322.00v7M274.00,321.50h7M277.50,318.00v7M274.00,326.50h7M277.50,323.00v7M274.00,321.50h7M277.50,318.00v7M274.00,298.50h7M277.50,295.00v7M275.00,317.50h7M278.50,314.00v7M275.00,308.50h7M278.50,305.00v7M275.00,294.50h7M278.50,291.00v7M275.00,311.50h7M278.50,308.00v7M276.00,298.50h7M279.50,295.00v7M276.00,321.50h7M279.50,318.00v7M276.00,309.50h7M279.50,306.00v7M276.00,318.50h7M279.50,315.00v7M277.00,304.50h7M280.50,301.00v7M277.00,326.50h7M280.50,323.00v7M277.00,314.50h7M280.50,311.00v7M278.00,320.50h7M281.50,317.00v7M278.00,308.50h7M281.50,305.00v7M278.00,302.50h7M281.50,299.00v7M278.00,288.50h7M281.50,285.00v7M279.00,329.50h7M282.50,326.00v7M279.00,319.50h7M282.50,316.00v7M279.00,308.50h7M282.50,305.00v7M279.00,296.50h7M282.50,293.00v7M280.00,326.50h7M283.50,323.00v7M280.00,308.50h7M283.50,305.00v7M280.00,324.50h7M283.50,321.00v7M280.00,318.50h7M283.50,315.00v7M281.00,310.50h7M284.50,307.00v7M281.00,312.50h7M284.50,309.00v7M281.00,316.50h7M284.50,313.00v7M281.00,329.50h7M284.50,326.00v7M282.00,304.50h7M285.50,301.00v7M282.00,293.50h7M285.50,290.00v7M282.00,326.50h7M285.50,323.00v7M283.00,301.50h7M286.50,298.00v7M283.00,308.50h7M286.50,305.00v7M283.00,304.50h7M286.50,301.00v7M283.00,300.50h7M286.50,297.00v7M284.00,292.50h7M287.50,289.00v7M284.00,310.50h7M287.50,307.00v7M284.00,308.50h7M287.50,305.00v7M284.00,300.50h7M287.50,297.00v7M285.00,328.50h7M288.50,325.00v7M285.00,321.50h7M288.50,318.00v7M285.00,293.50h7M288.50,290.00v7M285.00,328.50h7M288.50,325.00v7M286.00,323.50h7M289.50,320.00v7M286.00,307.50h7M289.50,304.00v7M286.00,322.50h7M289.50,319.00v7M287.00,300.50h7M290.50,297.00v7M287.00,302.50h7M290.50,299.00v7M287.00,319.50h7M290.50,316.00v7M287.00,316.50h7M290.50,313.00v7M288.00,311.50h7M291.50,308.00v7M288.00,304.50h7M291.50,301.00v7M288.00,318.50h7M291.50,315.00v7M288.00,321.50h7M291.50,318.00v7M289.00,316.50h7M292.50,313.00v7M289.00,315.50h7M292.50,312.00v7M289.00,327.50h7M292.50,324.00v7M289.00,291.50h7M292.50,288.00v7M290.00,299.50h7M293.50,296.00v7M290.00,314.50h7M293.50,311.00v7M290.00,313.50h7M293.50,310.00v7M291.00,293.50h7M294.50,290.00v7M291.00,293.50h7M294.50,290.00v7M291.00,325.50h7M294.50,322.00v7M291.00,304.50h7M294.50,301.00v7M292.00,310.50h7M295.50,307.00v7M292.00,304.50h7M295.50,301.00v7M292.00,324.50h7M295.50,321.00v7M292.00,322.50h7M295.50,319.00v7M293.00,304.50h7M296.50,301.00v7M293.00,312.50h7M296.50,309.00v7M293.00,308.50h7M296.50,305.00v7M293.00,318.50h7M296.50,315.00v7M294.00,327.50h7M297.50,324.00v7M294.00,316.50h7M297.50,313.00v7M294.00,319.50h7M297.50,316.00v7M294.00,304.50h7M297.50,301.00v7M295.00,304.50h7M298.50,301.00v7M295.00,314.50h7M298.50,311.00v7M295.00,316.50h7M298.50,313.00v7M296.00,303.50h7M299.50,300.00v7M296.00,316.50h7M299.50,313.00v7M296.00,324.50h7M299.50,321.00v7M296.00,316.50h7M299.50,313.00v7M297.00,286.50h7M300.50,283.00v7M297.00,312.50h7M300.50,309.00v7M297.00,302.50h7M300.50,299.00v7M297.00,321.50h7M300.50,318.00v7M298.00,300.50h7M301.50,297.00v7M298.00,317.50h7M301.50,314.00v7M298.00,319.50h7M301.50,316.00v7M298.00,314.50h7M301.50,311.00v7M299.00,326.50h7M302.50,323.00v7M299.00,296.50h7M302.50,293.00v7M299.00,299.50h7M302.50,296.00v7M300.00,322.50h7M303.50,319.00v7M300.00,323.50h7M303.50,320.00v7M300.00,315.50h7M303.50,312.00v7M300.00,318.50h7M303.50,315.00v7M301.00,305.50h7M304.50,302.00v7M301.00,308.50h7M304.50,305.00v7M301.00,294.50h7M304.50,291.00v7M301.00,319.50h7M304.50,316.00v7M302.00,296.50h7M305.50,293.00v7M302.00,308.50h7M305.50,305.00v7M302.00,319.50h7M305.50,316.00v7M302.00,324.50h7M305.50,321.00v7M303.00,318.50h7M306.50,315.00v7M303.00,315.50h7M306.50,312.00v7M303.00,290.50h7M306.50,287.00v7M303.00,320.50h7M306.50,317.00v7M304.00,306.50h7M307.50,303.00v7M304.00,309.50h7M307.50,306.00v7M304.00,316.50h7M307.50,313.00v7M305.00,327.50h7M308.50,324.00v7M305.00,313.50h7M308.50,310.00v7M305.00,306.50h7M308.50,303.00v7M305.00,330.50h7M308.50,327.00v7M306.00,325.50h7M309.50,322.00v7M306.00,311.50h7M309.50,308.00v7M306.00,305.50h7M309.50,302.00v7M306.00,307.50h7M309.50,304.00v7M307.00,330.50h7M310.50,327.00v7M307.00,306.50h7M310.50,303.00v7M307.00,329.50h7M310.50,326.00v7M307.00,313.50h7M310.50,310.00v7M308.00,307.50h7M311.50,304.00v7M308.00,297.50h7M311.50,294.00v7M308.00,325.50h7M311.50,322.00v7M309.00,317.50h7M312.50,314.00v7M309.00,318.50h7M312.50,315.00v7M309.00,321.50h7M312.50,318.00v7M309.00,321.50h7M312.50,318.00v7M310.00,303.50h7M313.50,300.00v7M310.00,312.50h7M313.50,309.00v7M310.00,317.50h7M313.50,314.00v7M310.00,316.50h7M313.50,313.00v7M311.00,318.50h7M314.50,315.00v7M311.00,308.50h7M314.50,305.00v7M311.00,323.50h7M314.50,320.00v7M311.00,287.50h7M314.50,284.00v7M312.00,309.50h7M315.50,306.00v7M312.00,313.50h7M315.50,310.00v7M312.00,320.50h7M315.50,317.00v7M312.00,322.50h7M315.50,319.00v7M313.00,321.50h7M316.50,318.00v7M313.00,322.50h7M316.50,319.00v7M313.00,306.50h7M316.50,303.00v7M314.00,315.50h7M317.50,312.00v7M314.00,330.50h7M317.50,327.00v7M314.00,311.50h7M317.50,308.00v7M314.00,300.50h7M317.50,297.00v7M315.00,318.50h7M318.50,315.00v7M315.00,303.50h7M318.50,300.00v7M315.00,320.50h7M318.50,317.00v7M315.00,330.50h7M318.50,327.00v7M316.00,326.50h7M319.50,323.00v7M316.00,324.50h7M319.50,321.00v7M316.00,321.50h7M319.50,318.00v7M316.00,307.50h7M319.50,304.00v7M317.00,311.50h7M320.50,308.00v7M317.00,318.50h7M320.50,315.00v7M317.00,329.50h7M320.50,326.00v7M318.00,297.50h7M321.50,294.00v7M318.00,328.50h7M321.50,325.00v7M318.00,321.50h7M321.50,318.00v7M318.00,332.50h7M321.50,329.00v7M319.00,317.50h7M322.50,314.00v7M319.00,318.50h7M322.50,315.00v7M319.00,334.50h7M322.50,331.00v7M319.00,320.50h7M322.50,317.00v7M320.00,315.50h7M323.50,312.00v7M320.00,331.50h7M323.50,328.00v7M320.00,306.50h7M323.50,303.00v7M320.00,324.50h7M323.50,321.00v7M321.00,317.50h7M324.50,314.00v7M321.00,314.50h7M324.50,311.00v7M321.00,314.50h7M324.50,311.00v7M322.00,314.50h7M325.50,311.00v7M322.00,324.50h7M325.50,321.00v7M322.00,305.50h7M325.50,302.00v7M322.00,317.50h7M325.50,314.00v7M323.00,307.50h7M326.50,304.00v7M323.00,334.50h7M326.50,331.00v7M323.00,335.50h7M326.50,332.00v7M323.00,332.50h7M326.50,329.00v7M324.00,327.50h7M327.50,324.00v7M324.00,309.50h7M327.50,306.00v7M324.00,314.50h7M327.50,311.00v7M324.00,299.50h7M327.50,296.00v7M325.00,313.50h7M328.50,310.00v7M325.00,310.50h7M328.50,307.00v7M325.00,336.50h7M328.50,333.00v7M325.00,311.50h7M328.50,308.00v7M326.00,326.50h7M329.50,323.00v7M326.00,332.50h7M329.50,329.00v7M326.00,332.50h7M329.50,329.00v7M327.00,318.50h7M330.50,315.00v7M327.00,303.50h7M330.50,300.00v7M327.00,311.50h7M330.50,308.00v7M327.00,331.50h7M330.50,328.00v7M328.00,330.50h7M331.50,327.00v7M328.00,304.50h7M331.50,301.00v7M328.00,324.50h7M331.50,321.00v7M328.00,304.50h7M331.50,301.00v7M329.00,328.50h7M332.50,325.00v7M329.00,333.50h7M332.50,330.00v7M329.00,335.50h7M332.50,332.00v7M329.00,305.50h7M332.50,302.00v7M330.00,334.50h7M333.50,331.00v7M330.00,328.50h7M333.50,325.00v7M330.00,313.50h7M333.50,310.00v7M331.00,338.50h7M334.50,335.00v7M331.00,324.50h7M334.50,321.00v7M331.00,339.50h7M334.50,336.00v7M331.00,329.50h7M334.50,326.00v7M332.00,335.50h7M335.50,332.00v7M332.00,317.50h7M335.50,314.00v7M332.00,323.50h7M335.50,320.00v7M332.00,323.50h7M335.50,320.00v7M333.00,329.50h7M336.50,326.00v7M333.00,290.50h7M336.50,287.00v7M333.00,331.50h7M336.50,328.00v7M333.00,323.50h7M336.50,320.00v7M334.00,328.50h7M337.50,325.00v7M334.00,318.50h7M337.50,315.00v7M334.00,317.50h7M337.50,314.00v7M334.00,293.50h7M337.50,290.00v7M335.00,326.50h7M338.50,323.00v7M335.00,328.50h7M338.50,325.00v7M335.00,307.50h7M338.50,304.00v7M336.00,309.50h7M339.50,306.00v7M336.00,327.50h7M339.50,324.00v7M336.00,336.50h7M339.50,333.00v7M336.00,307.50h7M339.50,304.00v7M337.00,329.50h7M340.50,326.00v7M337.00,329.50h7M340.50,326.00v7M337.00,340.50h7M340.50,337.00v7M337.00,324.50h7M340.50,321.00v7M338.00,332.50h7M341.50,329.00v7M338.00,317.50h7M341.50,314.00v7M338.00,320.50h7M341.50,317.00v7M338.00,319.50h7M341.50,316.00v7M339.00,320.50h7M342.50,317.00v7M339.00,300.50h7M342.50,297.00v7M339.00,324.50h7M342.50,321.00v7M340.00,310.50h7M343.50,307.00v7M340.00,323.50h7M343.50,320.00v7M340.00,332.50h7M343.50,329.00v7M340.00,326.50h7M343.50,323.00v7M341.00,288.50h7M344.50,285.00v7M341.00,313.50h7M344.50,310.00v7M341.00,335.50h7M344.50,332.00v7M341.00,329.50h7M344.50,326.00v7M342.00,324.50h7M345.50,321.00v7M342.00,308.50h7M345.50,305.00v7M342.00,325.50h7M345.50,322.00v7M342.00,317.50h7M345.50,314.00v7M343.00,328.50h7M346.50,325.00v7M343.00,340.50h7M346.50,337.00v7M343.00,338.50h7M346.50,335.00v7M344.00,331.50h7M347.50,328.00v7M344.00,314.50h7M347.50,311.00v7M344.00,313.50h7M347.50,310.00v7M344.00,315.50h7M347.50,312.00v7M345.00,339.50h7M348.50,336.00v7M345.00,318.50h7M348.50,315.00v7M345.00,320.50h7M348.50,317.00v7M345.00,330.50h7M348.50,327.00v7M346.00,306.50h7M349.50,303.00v7M346.00,315.50h7M349.50,312.00v7M346.00,338.50h7M349.50,335.00v7M346.00,324.50h7M349.50,321.00v7M347.00,293.50h7M350.50,290.00v7M347.00,326.50h7M350.50,323.00v7M347.00,303.50h7M350.50,300.00v7M347.00,302.50h7M350.50,299.00v7M348.00,314.50h7M351.50,311.00v7M348.00,327.50h7M351.50,324.00v7M348.00,322.50h7M351.50,319.00v7M349.00,307.50h7M352.50,304.00v7M349.00,314.50h7M352.50,311.00v7M349.00,316.50h7M352.50,313.00v7M349.00,318.50h7M352.50,315.00v7M350.00,337.50h7M353.50,334.00v7M350.00,320.50h7M353.50,317.00v7M350.00,304.50h7M353.50,301.00v7M350.00,322.50h7M353.50,319.00v7M351.00,304.50h7M354.50,301.00v7M351.00,330.50h7M354.50,327.00v7M351.00,321.50h7M354.50,318.00v7M351.00,328.50h7M354.50,325.00v7M352.00,305.50h7M355.50,302.00v7M352.00,335.50h7M355.50,332.00v7M352.00,323.50h7M355.50,320.00v7M353.00,325.50h7M356.50,322.00v7M353.00,330.50h7M356.50,327.00v7M353.00,327.50h7M356.50,324.00v7M353.00,319.50h7M356.50,316.00v7M354.00,312.50h7M357.50,309.00v7M354.00,312.50h7M357.50,309.00v7M354.00,308.50h7M357.50,305.00v7M354.00,305.50h7M357.50,302.00v7M355.00,333.50h7M358.50,330.00v7M355.00,332.50h7M358.50,329.00v7M355.00,297.50h7M358.50,294.00v7M355.00,321.50h7M358.50,318.00v7M356.00,328.50h7M359.50,325.00v7M356.00,329.50h7M359.50,326.00v7M356.00,331.50h7M359.50,328.00v7M356.00,314.50h7M359.50,311.00v7M357.00,313.50h7M360.50,310.00v7M357.00,332.50h7M360.50,329.00v7M357.00,326.50h7M360.50,323.00v7M358.00,318.50h7M361.50,315.00v7M358.00,301.50h7M361.50,298.00v7M358.00,329.50h7M361.50,326.00v7M358.00,323.50h7M361.50,320.00v7M359.00,328.50h7M362.50,325.00v7M359.00,321.50h7M362.50,318.00v7M359.00,315.50h7M362.50,312.00v7M359.00,304.50h7M362.50,301.00v7M360.00,320.50h7M363.50,317.00v7M360.00,320.50h7M363.50,317.00v7M360.00,331.50h7M363.50,328.00v7M360.00,317.50h7M363.50,314.00v7M361.00,326.50h7M364.50,323.00v7M361.00,317.50h7M364.50,314.00v7M361.00,294.50h7M364.50,291.00v7M362.00,321.50h7M365.50,318.00v7M362.00,329.50h7M365.50,326.00v7M362.00,326.50h7M365.50,323.00v7M362.00,319.50h7M365.50,316.00v7M363.00,317.50h7M366.50,314.00v7M363.00,332.50h7M366.50,329.00v7M363.00,318.50h7M366.50,315.00v7M363.00,315.50h7M366.50,312.00v7M364.00,307.50h7M367.50,304.00v7M364.00,283.50h7M367.50,280.00v7M364.00,332.50h7M367.50,329.00v7M364.00,331.50h7M367.50,328.00v7M365.00,321.50h7M368.50,318.00v7M365.00,320.50h7M368.50,317.00v7M365.00,323.50h7M368.50,320.00v7M365.00,328.50h7M368.50,325.00v7M366.00,321.50h7M369.50,318.00v7M366.00,298.50h7M369.50,295.00v7M366.00,319.50h7M369.50,316.00v7M367.00,331.50h7M370.50,328.00v7M367.00,324.50h7M370.50,321.00v7M367.00,309.50h7M370.50,306.00v7M367.00,329.50h7M370.50,326.00v7M368.00,292.50h7M371.50,289.00v7M368.00,318.50h7M371.50,315.00v7M368.00,334.50h7M371.50,331.00v7M368.00,301.50h7M371.50,298.00v7M369.00,323.50h7M372.50,320.00v7M369.00,300.50h7M372.50,297.00v7M369.00,329.50h7M372.50,326.00v7M369.00,332.50h7M372.50,329.00v7M370.00,331.50h7M373.50,328.00v7M370.00,307.50h7M373.50,304.00v7M370.00,305.50h7M373.50,302.00v7M371.00,301.50h7M374.50,298.00v7M371.00,318.50h7M374.50,315.00v7M371.00,312.50h7M374.50,309.00v7M371.00,293.50h7M374.50,290.00v7M372.00,311.50h7M375.50,308.00v7M372.00,300.50h7M375.50,297.00v7M372.00,312.50h7M375.50,309.00v7M372.00,330.50h7M375.50,327.00v7M373.00,323.50h7M376.50,320.00v7M373.00,309.50h7M376.50,306.00v7M373.00,326.50h7M376.50,323.00v7M373.00,305.50h7M376.50,302.00v7M374.00,335.50h7M377.50,332.00v7M374.00,328.50h7M377.50,325.00v7M374.00,323.50h7M377.50,320.00v7M375.00,300.50h7M378.50,297.00v7M375.00,328.50h7M378.50,325.00v7M375.00,311.50h7M378.50,308.00v7M375.00,336.50h7M378.50,333.00v7M376.00,325.50h7M379.50,322.00v7M376.00,305.50h7M379.50,302.00v7M376.00,312.50h7M379.50,309.00v7M376.00,308.50h7M379.50,305.00v7M377.00,310.50h7M380.50,307.00v7M377.00,300.50h7M380.50,297.00v7M377.00,298.50h7M380.50,295.00v7M377.00,333.50h7M380.50,330.00v7M378.00,339.50h7M381.50,336.00v7M378.00,299.50h7M381.50,296.00v7M378.00,331.50h7M381.50,328.00v7M378.00,311.50h7M381.50,308.00v7M379.00,308.50h7M382.50,305.00v7M379.00,316.50h7M382.50,313.00v7M379.00,307.50h7M382.50,304.00v7M380.00,318.50h7M383.50,315.00v7M380.00,317.50h7M383.50,314.00v7M380.00,323.50h7M383.50,320.00v7M380.00,336.50h7M383.50,333.00v7M381.00,324.50h7M384.50,321.00v7M381.00,290.50h7M384.50,287.00v7M381.00,328.50h7M384.50,325.00v7M381.00,293.50h7M384.50,290.00v7M382.00,337.50h7M385.50,334.00v7M382.00,318.50h7M385.50,315.00v7M382.00,302.50h7M385.50,299.00v7M382.00,306.50h7M385.50,303.00v7M383.00,292.50h7M386.50,289.00v7M383.00,291.50h7M386.50,288.00v7M383.00,333.50h7M386.50,330.00v7M384.00,287.50h7M387.50,284.00v7M384.00,322.50h7M387.50,319.00v7M384.00,333.50h7M387.50,330.00v7M384.00,337.50h7M387.50,334.00v7M385.00,307.50h7M388.50,304.00v7M385.00,332.50h7M388.50,329.00v7M385.00,332.50h7M388.50,329.00v7M385.00,330.50h7M388.50,327.00v7M386.00,307.50h7M389.50,304.00v7M386.00,308.50h7M389.50,305.00v7M386.00,293.50h7M389.50,290.00v7M386.00,333.50h7M389.50,330.00v7M387.00,320.50h7M390.50,317.00v7M387.00,329.50h7M390.50,326.00v7M387.00,297.50h7M390.50,294.00v7M387.00,330.50h7M390.50,327.00v7M388.00,311.50h7M391.50,308.00v7M388.00,308.50h7M391.50,305.00v7M388.00,336.50h7M391.50,333.00v7M389.00,316.50h7M392.50,313.00v7M389.00,305.50h7M392.50,302.00v7M389.00,307.50h7M392.50,304.00v7M389.00,313.50h7M392.50,310.00v7M390.00,291.50h7M393.50,288.00v7M390.00,312.50h7M393.50,309.00v7M390.00,310.50h7M393.50,307.00v7M390.00,317.50h7M393.50,314.00v7M391.00,332.50h7M394.50,329.00v7M391.00,322.50h7M394.50,319.00v7M391.00,316.50h7M394.50,313.00v7M391.00,328.50h7M394.50,325.00v7M392.00,307.50h7M395.50,304.00v7M392.00,314.50h7M395.50,311.00v7M392.00,283.50h7M395.50,280.00v7M393.00,296.50h7M396.50,293.00v7M393.00,332.50h7M396.50,329.00v7M393.00,328.50h7M396.50,325.00v7M393.00,313.50h7M396.50,310.00v7M394.00,329.50h7M397.50,326.00v7M394.00,309.50h7M397.50,306.00v7M394.00,326.50h7M397.50,323.00v7M394.00,304.50h7M397.50,301.00v7M395.00,331.50h7M398.50,328.00v7M395.00,323.50h7M398.50,320.00v7M395.00,308.50h7M398.50,305.00v7M395.00,331.50h7M398.50,328.00v7M396.00,326.50h7M399.50,323.00v7M396.00,314.50h7M399.50,311.00v7M396.00,293.50h7M399.50,290.00v7M397.00,315.50h7M400.50,312.00v7M397.00,323.50h7M400.50,320.00v7M397.00,316.50h7M400.50,313.00v7M397.00,321.50h7M400.50,318.00v7M398.00,312.50h7M401.50,309.00v7M398.00,307.50h7M401.50,304.00v7M398.00,307.50h7M401.50,304.00v7M398.00,322.50h7M401.50,319.00v7M399.00,322.50h7M402.50,319.00v7M399.00,323.50h7M402.50,320.00v7M399.00,315.50h7M402.50,312.00v7M399.00,328.50h7M402.50,325.00v7M400.00,326.50h7M403.50,323.00v7M400.00,308.50h7M403.50,305.00v7M400.00,304.50h7M403.50,301.00v7M400.00,327.50h7M403.50,324.00v7M401.00,294.50h7M404.50,291.00v7M401.00,323.50h7M404.50,320.00v7M401.00,307.50h7M404.50,304.00v7M402.00,328.50h7M405.50,325.00v7M402.00,290.50h7M405.50,287.00v7M402.00,329.50h7M405.50,326.00v7M402.00,300.50h7M405.50,297.00v7M403.00,320.50h7M406.50,317.00v7M403.00,317.50h7M406.50,314.00v7M403.00,325.50h7M406.50,322.00v7M403.00,294.50h7M406.50,291.00v7M404.00,310.50h7M407.50,307.00v7M404.00,330.50h7M407.50,327.00v7M404.00,330.50h7M407.50,327.00v7M404.00,306.50h7M407.50,303.00v7M405.00,298.50h7M408.50,295.00v7M405.00,315.50h7M408.50,312.00v7M405.00,319.50h7M408.50,316.00v7M406.00,308.50h7M409.50,305.00v7M406.00,316.50h7M409.50,313.00v7M406.00,319.50h7M409.50,316.00v7M406.00,313.50h7M409.50,310.00v7M407.00,312.50h7M410.50,309.00v7M407.00,320.50h7M410.50,317.00v7M407.00,303.50h7M410.50,300.00v7M407.00,318.50h7M410.50,315.00v7M408.00,296.50h7M411.50,293.00v7M408.00,306.50h7M411.50,303.00v7M408.00,311.50h7M411.50,308.00v7M408.00,314.50h7M411.50,311.00v7M409.00,306.50h7M412.50,303.00v7M409.00,324.50h7M412.50,321.00v7M409.00,307.50h7M412.50,304.00v7M409.00,302.50h7M412.50,299.00v7M410.00,311.50h7M413.50,308.00v7M410.00,293.50h7M413.50,290.00v7M410.00,304.50h7M413.50,301.00v7M411.00,311.50h7M414.50,308.00v7M411.00,299.50h7M414.50,296.00v7M411.00,318.50h7M414.50,315.00v7M411.00,305.50h7M414.50,302.00v7M412.00,323.50h7M415.50,320.00v7M412.00,312.50h7M415.50,309.00v7M412.00,289.50h7M415.50,286.00v7M412.00,314.50h7M415.50,311.00v7M413.00,327.50h7M416.50,324.00v7M413.00,317.50h7M416.50,314.00v7M413.00,286.50h7M416.50,283.00v7M413.00,327.50h7M416.50,324.00v7M414.00,304.50h7M417.50,301.00v7M414.00,291.50h7M417.50,288.00v7M414.00,327.50h7M417.50,324.00v7M415.00,317.50h7M418.50,314.00v7M415.00,315.50h7M418.50,312.00v7M415.00,292.50h7M418.50,289.00v7M415.00,286.50h7M418.50,283.00v7M416.00,313.50h7M419.50,310.00v7M416.00,320.50h7M419.50,317.00v7M416.00,300.50h7M419.50,297.00v7M416.00,322.50h7M419.50,319.00v7M417.00,327.50h7M420.50,324.00v7M417.00,295.50h7M420.50,292.00v7M417.00,307.50h7M420.50,304.00v7M417.00,308.50h7M420.50,305.00v7M418.00,329.50h7M421.50,326.00v7M418.00,297.50h7M421.50,294.00v7M418.00,283.50h7M421.50,280.00v7M418.00,318.50h7M421.50,315.00v7M419.00,323.50h7M422.50,320.00v7M419.00,306.50h7M422.50,303.00v7M419.00,314.50h7M422.50,311.00v7M420.00,300.50h7M423.50,297.00v7M420.00,312.50h7M423.50,309.00v7M420.00,323.50h7M423.50,320.00v7M420.00,330.50h7M423.50,327.00v7M421.00,303.50h7M424.50,300.00v7M421.00,313.50h7M424.50,310.00v7M421.00,302.50h7M424.50,299.00v7M421.00,313.50h7M424.50,310.00v7M422.00,306.50h7M425.50,303.00v7M422.00,314.50h7M425.50,311.00v7M422.00,323.50h7M425.50,320.00v7M422.00,331.50h7M425.50,328.00v7M423.00,328.50h7M426.50,325.00v7M423.00,292.50h7M426.50,289.00v7M423.00,303.50h7M426.50,300.00v7M424.00,321.50h7M427.50,318.00v7M424.00,312.50h7M427.50,309.00v7M424.00,300.50h7M427.50,297.00v7M424.00,330.50h7M427.50,327.00v7M425.00,286.50h7M428.50,283.00v7M425.00,332.50h7M428.50,329.00v7M425.00,303.50h7M428.50,300.00v7M425.00,314.50h7M428.50,311.00v7M426.00,330.50h7M429.50,327.00v7M426.00,322.50h7M429.50,319.00v7M426.00,331.50h7M429.50,328.00v7M426.00,303.50h7M429.50,300.00v7M427.00,323.50h7M430.50,320.00v7M427.00,301.50h7M430.50,298.00v7M427.00,329.50h7M430.50,326.00v7M428.00,301.50h7M431.50,298.00v7M428.00,302.50h7M431.50,299.00v7M428.00,322.50h7M431.50,319.00v7M428.00,319.50h7M431.50,316.00v7M429.00,331.50h7M432.50,328.00v7M429.00,321.50h7M432.50,318.00v7M429.00,303.50h7M432.50,300.00v7M429.00,328.50h7M432.50,325.00v7M430.00,329.50h7M433.50,326.00v7M430.00,320.50h7M433.50,317.00v7M430.00,318.50h7M433.50,315.00v7M430.00,295.50h7M433.50,292.00v7M431.00,329.50h7M434.50,326.00v7M431.00,328.50h7M434.50,325.00v7M431.00,327.50h7M434.50,324.00v7M431.00,298.50h7M434.50,295.00v7M432.00,320.50h7M435.50,317.00v7M432.00,314.50h7M435.50,311.00v7M432.00,305.50h7M435.50,302.00v7M433.00,333.50h7M436.50,330.00v7M433.00,332.50h7M436.50,329.00v7M433.00,296.50h7M436.50,293.00v7M433.00,316.50h7M436.50,313.00v7M434.00,311.50h7M437.50,308.00v7M434.00,309.50h7M437.50,306.00v7M434.00,303.50h7M437.50,300.00v7M434.00,308.50h7M437.50,305.00v7M435.00,332.50h7M438.50,329.00v7M435.00,328.50h7M438.50,325.00v7M435.00,307.50h7M438.50,304.00v7M435.00,333.50h7M438.50,330.00v7M436.00,327.50h7M439.50,324.00v7M436.00,297.50h7M439.50,294.00v7M436.00,316.50h7M439.50,313.00v7M437.00,328.50h7M440.50,325.00v7M437.00,306.50h7M440.50,303.00v7M437.00,324.50h7M440.50,321.00v7M437.00,323.50h7M440.50,320.00v7M438.00,305.50h7M441.50,302.00v7M438.00,321.50h7M441.50,318.00v7M438.00,304.50h7M441.50,301.00v7M438.00,306.50h7M441.50,303.00v7M439.00,319.50h7M442.50,316.00v7M439.00,305.50h7M442.50,302.00v7M439.00,317.50h7M442.50,314.00v7M439.00,308.50h7M442.50,305.00v7M440.00,295.50h7M443.50,292.00v7M440.00,322.50h7M443.50,319.00v7M440.00,325.50h7M443.50,322.00v7M440.00,319.50h7M443.50,316.00v7M441.00,314.50h7M444.50,311.00v7M441.00,315.50h7M444.50,312.00v7M441.00,304.50h7M444.50,301.00v7M442.00,308.50h7M445.50,305.00v7M442.00,314.50h7M445.50,311.00v7M442.00,322.50h7M445.50,319.00v7M442.00,330.50h7M445.50,327.00v7M443.00,319.50h7M446.50,316.00v7M443.00,305.50h7M446.50,302.00v7M443.00,313.50h7M446.50,310.00v7M443.00,306.50h7M446.50,303.00v7M444.00,326.50h7M447.50,323.00v7M444.00,326.50h7M447.50,323.00v7M444.00,309.50h7M447.50,306.00v7M444.00,304.50h7M447.50,301.00v7M445.00,325.50h7M448.50,322.00v7M445.00,321.50h7M448.50,318.00v7M445.00,316.50h7M448.50,313.00v7M446.00,317.50h7M449.50,314.00v7M446.00,327.50h7M449.50,324.00v7M446.00,314.50h7M449.50,311.00v7M446.00,306.50h7M449.50,303.00v7M447.00,294.50h7M450.50,291.00v7M447.00,306.50h7M450.50,303.00v7M447.00,301.50h7M450.50,298.00v7M447.00,295.50h7M450.50,292.00v7M448.00,318.50h7M451.50,315.00v7M448.00,331.50h7M451.50,328.00v7M448.00,331.50h7M451.50,328.00v7M448.00,313.50h7M451.50,310.00v7M449.00,294.50h7M452.50,291.00v7M449.00,323.50h7M452.50,320.00v7M449.00,325.50h7M452.50,322.00v7M450.00,327.50h7M453.50,324.00v7M450.00,313.50h7M453.50,310.00v7M450.00,291.50h7M453.50,288.00v7M450.00,327.50h7M453.50,324.00v7M451.00,317.50h7M454.50,314.00v7M451.00,321.50h7M454.50,318.00v7M451.00,311.50h7M454.50,308.00v7M451.00,328.50h7M454.50,325.00v7M452.00,311.50h7M455.50,308.00v7M452.00,325.50h7M455.50,322.00v7M452.00,328.50h7M455.50,325.00v7M452.00,329.50h7M455.50,326.00v7M453.00,325.50h7M456.50,322.00v7M453.00,313.50h7M456.50,310.00v7M453.00,303.50h7M456.50,300.00v7M453.00,314.50h7M456.50,311.00v7M454.00,303.50h7M457.50,300.00v7M454.00,325.50h7M457.50,322.00v7M454.00,312.50h7M457.50,309.00v7M455.00,311.50h7M458.50,308.00v7M455.00,324.50h7M458.50,321.00v7M455.00,316.50h7M458.50,313.00v7M455.00,318.50h7M458.50,315.00v7M456.00,283.50h7M459.50,280.00v7M456.00,328.50h7M459.50,325.00v7M456.00,322.50h7M459.50,319.00v7M456.00,312.50h7M459.50,309.00v7M457.00,322.50h7M460.50,319.00v7M457.00,314.50h7M460.50,311.00v7M457.00,319.50h7M460.50,316.00v7M457.00,301.50h7M460.50,298.00v7M458.00,300.50h7M461.50,297.00v7M458.00,315.50h7M461.50,312.00v7M458.00,306.50h7M461.50,303.00v7M459.00,328.50h7M462.50,325.00v7M459.00,330.50h7M462.50,327.00v7M459.00,299.50h7M462.50,296.00v7M459.00,329.50h7M462.50,326.00v7M460.00,329.50h7M463.50,326.00v7M460.00,329.50h7M463.50,326.00v7M460.00,318.50h7M463.50,315.00v7M460.00,327.50h7M463.50,324.00v7M461.00,323.50h7M464.50,320.00v7M461.00,306.50h7M464.50,303.00v7M461.00,312.50h7M464.50,309.00v7M461.00,324.50h7M464.50,321.00v7M462.00,303.50h7M465.50,300.00v7M462.00,304.50h7M465.50,301.00v7M462.00,323.50h7M465.50,320.00v7M462.00,305.50h7M465.50,302.00v7M463.00,301.50h7M466.50,298.00v7M463.00,300.50h7M466.50,297.00v7M463.00,309.50h7M466.50,306.00v7M464.00,316.50h7M467.50,313.00v7M464.00,307.50h7M467.50,304.00v7M464.00,323.50h7M467.50,320.00v7M464.00,324.50h7M467.50,321.00v7M465.00,321.50h7M468.50,318.00v7M465.00,307.50h7M468.50,304.00v7M465.00,307.50h7M468.50,304.00v7M465.00,306.50h7M468.50,303.00v7M466.00,307.50h7M469.50,304.00v7M466.00,321.50h7M469.50,318.00v7M466.00,327.50h7M469.50,324.00v7M466.00,299.50h7M469.50,296.00v7M467.00,297.50h7M470.50,294.00v7M467.00,289.50h7M470.50,286.00v7M467.00,330.50h7M470.50,327.00v7M468.00,317.50h7M471.50,314.00v7M468.00,287.50h7M471.50,284.00v7M468.00,325.50h7M471.50,322.00v7M468.00,322.50h7M471.50,319.00v7M469.00,301.50h7M472.50,298.00v7M469.00,311.50h7M472.50,308.00v7M469.00,320.50h7M472.50,317.00v7M469.00,314.50h7M472.50,311.00v7M470.00,290.50h7M473.50,287.00v7M470.00,295.50h7M473.50,292.00v7M470.00,309.50h7M473.50,306.00v7M470.00,320.50h7M473.50,317.00v7M471.00,312.50h7M474.50,309.00v7M471.00,306.50h7M474.50,303.00v7M471.00,307.50h7M474.50,304.00v7M471.00,320.50h7M474.50,317.00v7M472.00,329.50h7M475.50,326.00v7M472.00,288.50h7M475.50,285.00v7M472.00,311.50h7M475.50,308.00v7M473.00,325.50h7M476.50,322.00v7M473.00,320.50h7M476.50,317.00v7M473.00,302.50h7M476.50,299.00v7M473.00,312.50h7M476.50,309.00v7M474.00,318.50h7M477.50,315.00v7M474.00,306.50h7M477.50,303.00v7M474.00,317.50h7M477.50,314.00v7M474.00,296.50h7M477.50,293.00v7M475.00,300.50h7M478.50,297.00v7M475.00,318.50h7M478.50,315.00v7M475.00,326.50h7M478.50,323.00v7M475.00,320.50h7M478.50,317.00v7M476.00,320.50h7M479.50,317.00v7M476.00,328.50h7M479.50,325.00v7M476.00,312.50h7M479.50,309.00v7M477.00,324.50h7M480.50,321.00v7M477.00,315.50h7M480.50,312.00v7M477.00,325.50h7M480.50,322.00v7M477.00,292.50h7M480.50,289.00v7M478.00,309.50h7M481.50,306.00v7M478.00,329.50h7M481.50,326.00v7M478.00,329.50h7M481.50,326.00v7M478.00,312.50h7M481.50,309.00v7M479.00,305.50h7M482.50,302.00v7M479.00,302.50h7M482.50,299.00v7M479.00,321.50h7M482.50,318.00v7M479.00,327.50h7M482.50,324.00v7M480.00,327.50h7M483.50,324.00v7M480.00,327.50h7M483.50,324.00v7M480.00,306.50h7M483.50,303.00v7M481.00,299.50h7M484.50,296.00v7M481.00,328.50h7M484.50,325.00v7M481.00,314.50h7M484.50,311.00v7M481.00,322.50h7M484.50,319.00v7M482.00,314.50h7M485.50,311.00v7M482.00,310.50h7M485.50,307.00v7M482.00,310.50h7M485.50,307.00v7M482.00,316.50h7M485.50,313.00v7M483.00,323.50h7M486.50,320.00v7M483.00,315.50h7M486.50,312.00v7M483.00,305.50h7M486.50,302.00v7M483.00,289.50h7M486.50,286.00v7M484.00,324.50h7M487.50,321.00v7M484.00,319.50h7M487.50,316.00v7M484.00,309.50h7M487.50,306.00v7M484.00,332.50h7M487.50,329.00v7M485.00,324.50h7M488.50,321.00v7M485.00,325.50h7M488.50,322.00v7M485.00,316.50h7M488.50,313.00v7M486.00,318.50h7M489.50,315.00v7M486.00,327.50h7M489.50,324.00v7M486.00,309.50h7M489.50,306.00v7M486.00,325.50h7M489.50,322.00v7M487.00,330.50h7M490.50,327.00v7M487.00,333.50h7M490.50,330.00v7M487.00,330.50h7M490.50,327.00v7M487.00,314.50h7M490.50,311.00v7M488.00,300.50h7M491.50,297.00v7M488.00,331.50h7M491.50,328.00v7M488.00,314.50h7M491.50,311.00v7M488.00,324.50h7M491.50,321.00v7M489.00,310.50h7M492.50,307.00v7M489.00,313.50h7M492.50,310.00v7M489.00,329.50h7M492.50,326.00v7M490.00,308.50h7M493.50,305.00v7M490.00,300.50h7M493.50,297.00v7M490.00,327.50h7M493.50,324.00v7M490.00,329.50h7M493.50,326.00v7M491.00,314.50h7M494.50,311.00v7M491.00,315.50h7M494.50,312.00v7M491.00,312.50h7M494.50,309.00v7M491.00,310.50h7M494.50,307.00v7M492.00,323.50h7M495.50,320.00v7M492.00,298.50h7M495.50,295.00v7M492.00,329.50h7M495.50,326.00v7M492.00,333.50h7M495.50,330.00v7M493.00,306.50h7M496.50,303.00v7M493.00,301.50h7M496.50,298.00v7M493.00,314.50h7M496.50,311.00v7M493.00,304.50h7M496.50,301.00v7M494.00,323.50h7M497.50,320.00v7M494.00,289.50h7M497.50,286.00v7M494.00,303.50h7M497.50,300.00v7M495.00,313.50h7M498.50,310.00v7M495.00,329.50h7M498.50,326.00v7M495.00,321.50h7M498.50,318.00v7M495.00,330.50h7M498.50,327.00v7M496.00,312.50h7M499.50,309.00v7M496.00,296.50h7M499.50,293.00v7M496.00,305.50h7M499.50,302.00v7M496.00,325.50h7M499.50,322.00v7M497.00,300.50h7M500.50,297.00v7M497.00,313.50h7M500.50,310.00v7M497.00,319.50h7M500.50,316.00v7M497.00,315.50h7M500.50,312.00v7M498.00,308.50h7M501.50,305.00v7M498.00,318.50h7M501.50,315.00v7M498.00,309.50h7M501.50,306.00v7M499.00,299.50h7M502.50,296.00v7M499.00,304.50h7M502.50,301.00v7M499.00,306.50h7M502.50,303.00v7M499.00,304.50h7M502.50,301.00v7M500.00,326.50h7M503.50,323.00v7M500.00,331.50h7M503.50,328.00v7M500.00,293.50h7M503.50,290.00v7M500.00,313.50h7M503.50,310.00v7M501.00,307.50h7M504.50,304.00v7M501.00,310.50h7M504.50,307.00v7M501.00,319.50h7M504.50,316.00v7M501.00,307.50h7M504.50,304.00v7M502.00,302.50h7M505.50,299.00v7M502.00,326.50h7M505.50,323.00v7M502.00,289.50h7M505.50,286.00v7M503.00,309.50h7M506.50,306.00v7M503.00,308.50h7M506.50,305.00v7M503.00,312.50h7M506.50,309.00v7M503.00,310.50h7M506.50,307.00v7M504.00,312.50h7M507.50,309.00v7M504.00,328.50h7M507.50,325.00v7M504.00,325.50h7M507.50,322.00v7M504.00,311.50h7M507.50,308.00v7M505.00,308.50h7M508.50,305.00v7M505.00,294.50h7M508.50,291.00v7M505.00,300.50h7M508.50,297.00v7M505.00,331.50h7M508.50,328.00v7M506.00,324.50h7M509.50,321.00v7M506.00,306.50h7M509.50,303.00v7M506.00,306.50h7M509.50,303.00v7M506.00,309.50h7M509.50,306.00v7M507.00,315.50h7M510.50,312.00v7M507.00,302.50h7M510.50,299.00v7M507.00,317.50h7M510.50,314.00v7M508.00,309.50h7M511.50,306.00v7M508.00,307.50h7M511.50,304.00v7M508.00,312.50h7M511.50,309.00v7M508.00,319.50h7M511.50,316.00v7M509.00,323.50h7M512.50,320.00v7M509.00,307.50h7M512.50,304.00v7M509.00,304.50h7M512.50,301.00v7M509.00,309.50h7M512.50,306.00v7M510.00,301.50h7M513.50,298.00v7M510.00,317.50h7M513.50,314.00v7M510.00,320.50h7M513.50,317.00v7M510.00,293.50h7M513.50,290.00v7M511.00,325.50h7M514.50,322.00v7M511.00,305.50h7M514.50,302.00v7M511.00,312.50h7M514.50,309.00v7M512.00,320.50h7M515.50,317.00v7M512.00,322.50h7M515.50,319.00v7M512.00,314.50h7M515.50,311.00v7M512.00,324.50h7M515.50,321.00v7M513.00,318.50h7M516.50,315.00v7M513.00,326.50h7M516.50,323.00v7M513.00,310.50h7M516.50,307.00v7M513.00,301.50h7M516.50,298.00v7M514.00,318.50h7M517.50,315.00v7M514.00,301.50h7M517.50,298.00v7M514.00,298.50h7M517.50,295.00v7M514.00,294.50h7M517.50,291.00v7M515.00,325.50h7M518.50,322.00v7M515.00,312.50h7M518.50,309.00v7M515.00,315.50h7M518.50,312.00v7M515.00,321.50h7M518.50,318.00v7M516.00,305.50h7M519.50,302.00v7M516.00,322.50h7M519.50,319.00v7M516.00,307.50h7M519.50,304.00v7M517.00,312.50h7M520.50,309.00v7M517.00,318.50h7M520.50,315.00v7M517.00,291.50h7M520.50,288.00v7M517.00,310.50h7M520.50,307.00v7M518.00,323.50h7M521.50,320.00v7M518.00,317.50h7M521.50,314.00v7M518.00,303.50h7M521.50,300.00v7M518.00,310.50h7M521.50,307.00v7M519.00,309.50h7M522.50,306.00v7M519.00,323.50h7M522.50,320.00v7M519.00,291.50h7M522.50,288.00v7M519.00,320.50h7M522.50,317.00v7M520.00,306.50h7M523.50,303.00v7M520.00,286.50h7M523.50,283.00v7M520.00,313.50h7M523.50,310.00v7M521.00,308.50h7M524.50,305.00v7M521.00,301.50h7M524.50,298.00v7M521.00,300.50h7M524.50,297.00v7M521.00,311.50h7M524.50,308.00v7M522.00,308.50h7M525.50,305.00v7M522.00,298.50h7M525.50,295.00v7M522.00,321.50h7M525.50,318.00v7M522.00,309.50h7M525.50,306.00v7M523.00,315.50h7M526.50,312.00v7M523.00,315.50h7M526.50,312.00v7M523.00,318.50h7M526.50,315.00v7M523.00,314.50h7M526.50,311.00v7M524.00,318.50h7M527.50,315.00v7M524.00,311.50h7M527.50,308.00v7M524.00,318.50h7M527.50,315.00v7M524.00,305.50h7M527.50,302.00v7M525.00,293.50h7M528.50,290.00v7M525.00,293.50h7M528.50,290.00v7M525.00,313.50h7M528.50,310.00v7M526.00,293.50h7M529.50,290.00v7M526.00,312.50h7M529.50,309.00v7M526.00,314.50h7M529.50,311.00v7M526.00,297.50h7M529.50,294.00v7M527.00,289.50h7M530.50,286.00v7M527.00,306.50h7M530.50,303.00v7M527.00,314.50h7M530.50,311.00v7M527.00,292.50h7M530.50,289.00v7M528.00,284.50h7M531.50,281.00v7M528.00,319.50h7M531.50,316.00v7M528.00,303.50h7M531.50,300.00v7M528.00,311.50h7M531.50,308.00v7M529.00,297.50h7M532.50,294.00v7M529.00,315.50h7M532.50,312.00v7M529.00,318.50h7M532.50,315.00v7M530.00,291.50h7M533.50,288.00v7M530.00,318.50h7M533.50,315.00v7M530.00,302.50h7M533.50,299.00v7M530.00,309.50h7M533.50,306.00v7M531.00,313.50h7M534.50,310.00v7M531.00,314.50h7M534.50,311.00v7M531.00,307.50h7M534.50,304.00v7M531.00,322.50h7M534.50,319.00v7M532.00,316.50h7M535.50,313.00v7M532.00,290.50h7M535.50,287.00v7M532.00,315.50h7M535.50,312.00v7M532.00,308.50h7M535.50,305.00v7M533.00,320.50h7M536.50,317.00v7M533.00,313.50h7M536.50,310.00v7M533.00,298.50h7M536.50,295.00v7M534.00,317.50h7M537.50,314.00v7M534.00,314.50h7M537.50,311.00v7M534.00,283.50h7M537.50,280.00v7M534.00,293.50h7M537.50,290.00v7M535.00,321.50h7M538.50,318.00v7M535.00,305.50h7M538.50,302.00v7M535.00,311.50h7M538.50,308.00v7M535.00,320.50h7M538.50,317.00v7M536.00,300.50h7M539.50,297.00v7M536.00,318.50h7M539.50,315.00v7M536.00,321.50h7M539.50,318.00v7M536.00,311.50h7M539.50,308.00v7M537.00,311.50h7M540.50,308.00v7M537.00,319.50h7M540.50,316.00v7M537.00,304.50h7M540.50,301.00v7M537.00,297.50h7M540.50,294.00v7M538.00,311.50h7M541.50,308.00v7M538.00,303.50h7M541.50,300.00v7M538.00,310.50h7M541.50,307.00v7M539.00,317.50h7M542.50,314.00v7M539.00,318.50h7M542.50,315.00v7M539.00,317.50h7M542.50,314.00v7M539.00,311.50h7M542.50,308.00v7M540.00,320.50h7M543.50,317.00v7M540.00,316.50h7M543.50,313.00v7M540.00,304.50h7M543.50,301.00v7M540.00,295.50h7M543.50,292.00v7M541.00,311.50h7M544.50,308.00v7M541.00,324.50h7M544.50,321.00v7M541.00,322.50h7M544.50,319.00v7M541.00,317.50h7M544.50,314.00v7M542.00,319.50h7M545.50,316.00v7M542.00,318.50h7M545.50,315.00v7M542.00,324.50h7M545.50,321.00v7M543.00,325.50h7M546.50,322.00v7M543.00,322.50h7M546.50,319.00v7M543.00,324.50h7M546.50,321.00v7M543.00,310.50h7M546.50,307.00v7M544.00,300.50h7M547.50,297.00v7M544.00,317.50h7M547.50,314.00v7M544.00,321.50h7M547.50,318.00v7M544.00,301.50h7M547.50,298.00v7M545.00,323.50h7M548.50,320.00v7M545.00,297.50h7M548.50,294.00v7M545.00,319.50h7M548.50,316.00v7M545.00,321.50h7M548.50,318.00v7M546.00,304.50h7M549.50,301.00v7M546.00,321.50h7M549.50,318.00v7M546.00,321.50h7M549.50,318.00v7M546.00,325.50h7M549.50,322.00v7M547.00,313.50h7M550.50,310.00v7M547.00,305.50h7M550.50,302.00v7M547.00,321.50h7M550.50,318.00v7M548.00,321.50h7M551.50,318.00v7M548.00,325.50h7M551.50,322.00v7M548.00,325.50h7M551.50,322.00v7M548.00,322.50h7M551.50,319.00v7M549.00,325.50h7M552.50,322.00v7M549.00,324.50h7M552.50,321.00v7M549.00,288.50h7M552.50,285.00v7M549.00,300.50h7M552.50,297.00v7M550.00,316.50h7M553.50,313.00v7M550.00,298.50h7M553.50,295.00v7M550.00,317.50h7M553.50,314.00v7M550.00,321.50h7M553.50,318.00v7M551.00,322.50h7M554.50,319.00v7M551.00,319.50h7M554.50,316.00v7M551.00,312.50h7M554.50,309.00v7M552.00,312.50h7M555.50,309.00v7M552.00,321.50h7M555.50,318.00v7M552.00,322.50h7M555.50,319.00v7M552.00,317.50h7M555.50,314.00v7M553.00,314.50h7M556.50,311.00v7M553.00,324.50h7M556.50,321.00v7M553.00,315.50h7M556.50,312.00v7M553.00,323.50h7M556.50,320.00v7M554.00,322.50h7M557.50,319.00v7M554.00,292.50h7M557.50,289.00v7M554.00,324.50h7M557.50,321.00v7M554.00,322.50h7M557.50,319.00v7M555.00,314.50h7M558.50,311.00v7M555.00,325.50h7M558.50,322.00v7M555.00,312.50h7M558.50,309.00v7M556.00,322.50h7M559.50,319.00v7"/>
</svg>
</body></html>
